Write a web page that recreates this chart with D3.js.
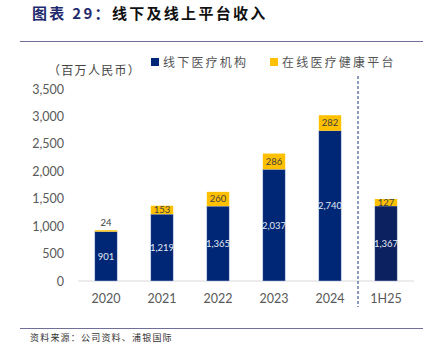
<!DOCTYPE html>
<html>
<head>
<meta charset="utf-8">
<script src="https://cdn.jsdelivr.net/npm/d3@7"></script>
<style>
  body { margin: 0; background: #fff; }
  svg { display: block; }
  text { font-family: Lato, "Noto Sans CJK SC", sans-serif; }
  .cjk { font-family: "Noto Sans CJK SC", sans-serif; }
</style>
</head>
<body>
<script>
// revenue, RMB mn
var periods = ["2020", "2021", "2022", "2023", "2024", "1H25"];
var offline = [901, 1219, 1365, 2037, 2740, 1367];
var online = [24, 153, 260, 286, 282, 127];
var yTicks = [0, 500, 1000, 1500, 2000, 2500, 3000, 3500];
var seriesNames = ["线下医疗机构", "在线医疗健康平台"];

var w = 430, h = 349;
var navy = "#002776", navyH = "#0b2160", gold = "#ffc000";

var svg = d3.select("body").append("svg")
  .attr("width", w)
  .attr("height", h);

// title
var title = svg.append("text")
  .attr("class", "cjk")
  .attr("x", 32)
  .attr("y", 19)
  .style("font-size", "15px")
  .style("font-weight", "bold")
  .style("letter-spacing", "2.3px");
title.append("tspan").attr("fill", "#1f2a6e").text("图表 29：");
title.append("tspan").attr("fill", "#111").text("线下及线上平台收入");

// rules top and bottom
svg.append("line").attr("x1", 20).attr("x2", 423).attr("y1", 41.5).attr("y2", 41.5)
  .attr("stroke", "#6f6f9a").attr("stroke-width", 1);
svg.append("line").attr("x1", 20).attr("x2", 423).attr("y1", 328.5).attr("y2", 328.5)
  .attr("stroke", "#6f6f9a").attr("stroke-width", 1);

// unit + legend
svg.append("text").attr("class", "cjk")
  .attr("x", 48).attr("y", 75)
  .attr("fill", "#444")
  .style("font-size", "12px")
  .style("letter-spacing", "1.3px")
  .text("（百万人民币）");

var legend = [
  {name: seriesNames[0], color: navy, x: 151},
  {name: seriesNames[1], color: gold, x: 270}
];
legend.forEach(function(d) {
  svg.append("rect").attr("x", d.x).attr("y", 58).attr("width", 8).attr("height", 8)
    .attr("fill", d.color);
  svg.append("text").attr("class", "cjk")
    .attr("x", d.x + 12).attr("y", 67)
    .attr("fill", "#555")
    .style("font-size", "12px")
    .style("letter-spacing", "2.2px")
    .text(d.name);
});

// scales
var xScale = d3.scaleBand()
  .domain(periods)
  .range([78, 414])
  .paddingInner(0.6)
  .paddingOuter(0.3);

var yScale = d3.scaleLinear()
  .domain([0, 3500])
  .range([281, 89]);

// y axis labels
var yAxis = svg.append("g")
  .attr("transform", "translate(64,0)")
  .call(d3.axisLeft(yScale).tickValues(yTicks).tickSize(0).tickPadding(0)
    .tickFormat(d3.format(",")));
yAxis.select(".domain").remove();
yAxis.selectAll("text")
  .attr("fill", "#595959")
  .style("font-size", "12.5px")
  .style("font-family", "Lato, sans-serif");

// x axis
var xAxis = svg.append("g")
  .attr("transform", "translate(0,281)")
  .call(d3.axisBottom(xScale).tickSize(0).tickPadding(13));
xAxis.select(".domain").attr("stroke", "#d9d9d9").attr("stroke-width", 1.2)
  .attr("d", "M78,0H414");
xAxis.selectAll("text")
  .attr("fill", "#595959")
  .style("font-size", "12.5px")
  .style("font-family", "Lato, sans-serif");

var data = periods.map(function(p, i) {
  return {period: p, offline: offline[i], online: online[i]};
});

// offline bars
svg.selectAll(".bar_off")
  .data(data)
  .enter().append("rect")
  .attr("class", "bar_off")
  .attr("x", function(d) { return xScale(d.period); })
  .attr("width", xScale.bandwidth())
  .attr("y", function(d) { return yScale(d.offline); })
  .attr("height", function(d) { return yScale(0) - yScale(d.offline); })
  .attr("fill", function(d) { return d.period == "1H25" ? navyH : navy; })
  .attr("stroke", "#c5cde3")
  .attr("stroke-width", 0.5);

// online bars stacked on top
svg.selectAll(".bar_on")
  .data(data)
  .enter().append("rect")
  .attr("class", "bar_on")
  .attr("x", function(d) { return xScale(d.period); })
  .attr("width", xScale.bandwidth())
  .attr("y", function(d) { return yScale(d.offline + d.online); })
  .attr("height", function(d) { return yScale(d.offline) - yScale(d.offline + d.online); })
  .attr("fill", gold);

// value labels in offline bars
svg.selectAll(".lab_off")
  .data(data)
  .enter().append("text")
  .attr("class", "lab_off")
  .attr("x", function(d) { return xScale(d.period) + xScale.bandwidth() / 2; })
  .attr("y", function(d) { return (yScale(0) + yScale(d.offline)) / 2 + 3.5; })
  .attr("text-anchor", "middle")
  .attr("fill", "#e4e8f2")
  .style("font-size", "9.5px")
  .text(function(d) { return d3.format(",")(d.offline); });

// value labels for online segment (tiny segment gets label above)
svg.selectAll(".lab_on")
  .data(data)
  .enter().append("text")
  .attr("class", "lab_on")
  .attr("x", function(d) { return xScale(d.period) + xScale.bandwidth() / 2; })
  .attr("y", function(d) {
    var top = yScale(d.offline + d.online), bot = yScale(d.offline);
    if (bot - top < 4) return top - 4;
    return (top + bot) / 2 + 3.5;
  })
  .attr("text-anchor", "middle")
  .attr("fill", "#404040")
  .style("font-size", "9.5px")
  .text(function(d) { return d3.format(",")(d.online); });

// divider between full years and half year
var divX = (xScale("2024") + xScale.bandwidth() + xScale("1H25")) / 2;
svg.append("line")
  .attr("x1", divX).attr("x2", divX)
  .attr("y1", 76).attr("y2", 307)
  .attr("stroke", "#1f3a78")
  .attr("stroke-width", 1)
  .attr("stroke-dasharray", "3,2");

// source
svg.append("text").attr("class", "cjk")
  .attr("x", 30).attr("y", 341)
  .attr("fill", "#333")
  .style("font-size", "9px")
  .style("letter-spacing", "1.2px")
  .text("资料来源：公司资料、浦银国际");
</script>
</body>
</html>
